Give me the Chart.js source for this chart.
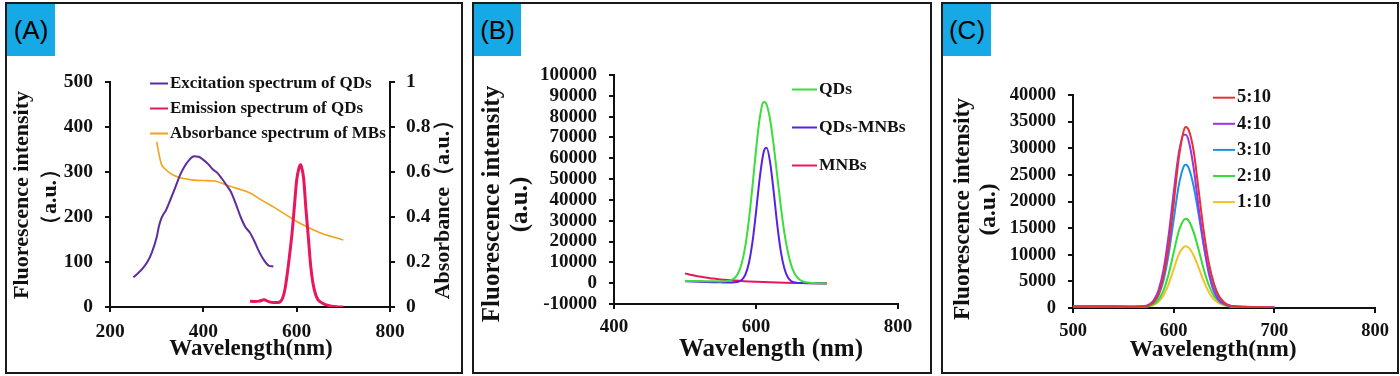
<!DOCTYPE html>
<html>
<head>
<meta charset="utf-8">
<script src="https://cdn.jsdelivr.net/npm/chart.js@4.4.1/dist/chart.umd.min.js"></script>
<style>
  html, body { margin: 0; padding: 0; background: #fff; }
  #page { position: relative; width: 1400px; height: 376px; overflow: hidden; }
  .panel { position: absolute; top: 2px; height: 368px; border: 2px solid #1a1a1a; }
  .tag {
    position: absolute; top: 4px; height: 52px; background: #17a8e6; color: #000;
    font: 26px "Liberation Sans", Arial, sans-serif;
    display: flex; align-items: center; justify-content: center;
  }
  canvas { position: absolute; top: 0; }
</style>
</head>
<body>
<div id="page">
  <div class="panel" style="left:5px;width:454px"></div>
  <div class="panel" style="left:472px;width:456px"></div>
  <div class="panel" style="left:941px;width:454px"></div>
  <div class="tag" style="left:7px;width:48px">(A)</div>
  <div class="tag" style="left:474px;width:47px">(B)</div>
  <div class="tag" style="left:943px;width:48px">(C)</div>
  <canvas id="chartA" width="462" height="376" style="left:0px"></canvas>
  <canvas id="chartB" width="470" height="376" style="left:462px"></canvas>
  <canvas id="chartC" width="456" height="376" style="left:942px"></canvas>
</div>

<script>
/* ---------- data: panel A ---------- */
const excWave = [250, 260, 270, 280, 290, 300, 305, 310, 315, 320, 330, 340, 350, 360, 370, 380, 390,
                 400, 410, 420, 430, 440, 450, 460, 470, 480, 490, 500, 510, 520, 530, 540, 550];
const excitation = [66, 75, 86, 100, 122, 155, 180, 197, 207, 215, 240, 266, 293, 313, 327, 335, 334,
                    327, 318, 306, 298, 285, 270, 254, 228, 200, 178, 165, 145, 122, 104, 92, 90];

const emWave = [500, 510, 520, 530, 540, 550, 560, 565, 570, 575, 580, 585, 590, 595, 600, 605, 608,
                610, 615, 620, 625, 630, 635, 640, 645, 650, 660, 670, 680, 690, 700];
const emission = [13, 12, 13, 16, 12, 10, 10, 12, 20, 40, 75, 117, 163, 222, 282, 309, 316,
                  313, 285, 216, 155, 92, 52, 30, 17, 12, 6, 3, 1, 0, 0];

const absWave = [300, 305, 310, 320, 330, 340, 350, 375, 400, 425, 450, 475, 500, 525, 550, 575, 600,
                 625, 650, 675, 700];
const absorbance = [0.735, 0.68, 0.635, 0.61, 0.593, 0.582, 0.574, 0.565, 0.562, 0.56, 0.542, 0.525,
                    0.507, 0.475, 0.445, 0.413, 0.38, 0.354, 0.33, 0.313, 0.298];

/* ---------- data: panel B ---------- */
const bWave = [500, 510, 520, 530, 540, 550, 560, 565, 570, 575, 580, 585, 590, 595, 600, 605, 610,
               612, 615, 620, 625, 630, 635, 640, 645, 650, 655, 660, 665, 670, 680, 690, 700];
const qds = [1100, 1050, 1000, 950, 900, 850, 1000, 1440, 2520, 4900, 9680, 17900, 30400, 46500,
             63900, 78700, 86800, 87000, 85700, 78400, 66000, 51300, 36700, 24200, 14700, 8200,
             4300, 2100, 950, 400, 100, 0, -100];
const qdsMnbs = [900, 800, 700, 600, 500, 400, 300, 320, 400, 700, 1600, 4100, 9700, 19700, 34000,
                 49800, 61700, 64300, 65000, 57800, 43600, 27900, 15200, 7000, 2700, 900, 300, 100,
                 50, 0, 0, -50, -100];
const mnbWave = [500, 510, 520, 530, 540, 550, 560, 570, 580, 590, 600, 620, 640, 660, 680, 700];
const mnbs = [4700, 3900, 3200, 2700, 2200, 1800, 1500, 1250, 1050, 850, 700, 450, 250, 100, 0, -100];

/* ---------- data: panel C ---------- */
const cWave = [500, 520, 540, 560, 565, 570, 575, 580, 585, 590, 595, 600, 605, 610, 612, 615, 620,
               625, 630, 635, 640, 645, 650, 655, 660, 670, 680, 690, 700];
const ratio5 = [300, 280, 260, 250, 260, 300, 500, 1100, 2700, 6100, 11500, 19500, 28000, 33300, 34000,
                33400, 29300, 21800, 14300, 8400, 4600, 2250, 1100, 550, 320, 220, 180, 150, 120];
const ratio4 = [300, 280, 260, 250, 270, 345, 610, 1410, 3380, 7290, 13640, 21660, 28990, 32550, 32550,
                31300, 26100, 18600, 11800, 6400, 3100, 1400, 790, 430, 300, 200, 170, 140, 120];
const ratio3 = [300, 280, 260, 250, 260, 290, 470, 1010, 2390, 5240, 10110, 16570, 22940, 26600, 26900,
                26280, 22730, 17350, 11570, 6860, 3630, 1870, 900, 470, 310, 220, 180, 150, 120];
const ratio2 = [300, 280, 260, 250, 250, 270, 380, 720, 1580, 3360, 6390, 10410, 14380, 16520, 16750,
                16370, 14150, 10800, 7200, 4270, 2260, 1240, 640, 370, 270, 210, 170, 150, 120];
const ratio1 = [300, 280, 260, 250, 250, 260, 340, 570, 1170, 2400, 4500, 7280, 10030, 11450, 11600,
                11330, 9800, 7480, 4990, 2960, 1570, 920, 500, 320, 250, 200, 170, 150, 120];

/* ---------- helpers ---------- */
const SERIF = "'Liberation Serif', 'Times New Roman', serif";
const INK = '#111';

const pts = (xs, ys) => xs.map((x, i) => ({ x, y: ys[i] }));

function line(label, xs, ys, color, width, axis) {
  return {
    label,
    data: pts(xs, ys),
    borderColor: color,
    borderWidth: width,
    pointRadius: 0,
    cubicInterpolationMode: 'monotone',
    fill: false,
    yAxisID: axis || 'y'
  };
}

function axis(size, pad, fit) {
  return {
    type: 'linear',
    border: { color: INK, width: 2 },
    grid: { drawOnChartArea: false, drawTicks: true, tickLength: 5, color: INK, lineWidth: 2 },
    ticks: {
      color: INK,
      padding: pad,
      autoSkip: false,
      maxRotation: 0,
      font: { family: SERIF, weight: 'bold', size },
      callback: v => String(v)
    },
    afterFit: fit
  };
}

// legend: short line + label, one row per dataset
const lineLegend = {
  id: 'lineLegend',
  afterDraw(chart, args, o) {
    const { ctx } = chart;
    ctx.save();
    ctx.font = `bold ${o.size}px ${SERIF}`;
    ctx.textBaseline = 'middle';
    chart.data.datasets.forEach((ds, i) => {
      const y = o.y + i * o.rowGap;
      ctx.strokeStyle = ds.borderColor;
      ctx.lineWidth = 2;
      ctx.beginPath();
      ctx.moveTo(o.x, y);
      ctx.lineTo(o.x + o.lineLen, y);
      ctx.stroke();
      ctx.fillStyle = INK;
      ctx.fillText(ds.label, o.x + o.lineLen + 2, y);
    });
    ctx.restore();
  }
};

// axis titles placed where the original figure has them
const axisTitles = {
  id: 'axisTitles',
  afterDraw(chart, args, o) {
    const { ctx } = chart;
    o.items.forEach(t => {
      ctx.save();
      ctx.translate(t.x, t.y);
      if (t.rot) ctx.rotate(t.rot * Math.PI / 180);
      ctx.font = `bold ${t.size}px ${SERIF}`;
      ctx.fillStyle = INK;
      ctx.textAlign = 'center';
      ctx.textBaseline = 'middle';
      ctx.fillText(t.text, 0, 0);
      ctx.restore();
    });
  }
};

const base = {
  responsive: false,
  animation: false,
  events: [],
  plugins: { legend: { display: false }, tooltip: { enabled: false } }
};

/* ---------- panel A ---------- */
new Chart(document.getElementById('chartA'), {
  type: 'line',
  data: {
    datasets: [
      line('Excitation spectrum of QDs', excWave, excitation, '#5b2d9e', 2),
      line('Emission spectrum of QDs', emWave, emission, '#e8175d', 3),
      line('Absorbance spectrum of MBs', absWave, absorbance, '#f0a31c', 1.6, 'y1')
    ]
  },
  options: {
    ...base,
    layout: { padding: { left: 0, top: 82, right: 0, bottom: 0 } },
    scales: {
      x: { ...axis(19.5, 8, s => { s.height = 69; }), position: 'bottom', min: 200, max: 800,
           ticks: { ...axis(19.5, 8).ticks, stepSize: 200 } },
      y: { ...axis(19.5, 12, s => { s.width = 110; }), position: 'left', min: 0, max: 500,
           ticks: { ...axis(19.5, 12).ticks, stepSize: 100 } },
      y1: { ...axis(19.5, 11, s => { s.width = 72; }), position: 'right', min: 0, max: 1,
            ticks: { ...axis(19.5, 11).ticks, stepSize: 0.2 } }
    },
    plugins: {
      ...base.plugins,
      lineLegend: { x: 150, y: 83.5, rowGap: 25, lineLen: 18, size: 17 },
      axisTitles: { items: [
        { text: 'Wavelength(nm)', x: 251, y: 349, size: 23 },
        { text: 'Fluorescence intensity', x: 22, y: 195, size: 22, rot: -90 },
        { text: '（a.u.）', x: 50, y: 197, size: 22, rot: -90 },
        { text: 'Absorbance（a.u.）', x: 443, y: 204, size: 22, rot: -90 }
      ] }
    }
  },
  plugins: [lineLegend, axisTitles]
});

/* ---------- panel B ---------- */
new Chart(document.getElementById('chartB'), {
  type: 'line',
  data: {
    datasets: [
      line('QDs', bWave, qds, '#3ddc3d', 2),
      line('QDs-MNBs', bWave, qdsMnbs, '#5522e6', 2),
      line('MNBs', mnbWave, mnbs, '#e8175d', 2)
    ]
  },
  options: {
    ...base,
    layout: { padding: { left: 0, top: 75, right: 34, bottom: 0 } },
    scales: {
      x: { ...axis(19, 7, s => { s.height = 72; }), position: 'bottom', min: 400, max: 800,
           ticks: { ...axis(19, 7).ticks, stepSize: 200 } },
      y: { ...axis(19, 12, s => { s.width = 152; }), position: 'left', min: -10000, max: 100000,
           ticks: { ...axis(19, 12).ticks, stepSize: 10000 } }
    },
    plugins: {
      ...base.plugins,
      lineLegend: { x: 330, y: 89.5, rowGap: 38, lineLen: 25, size: 17.5 },
      axisTitles: { items: [
        { text: 'Wavelength (nm)', x: 309, y: 350, size: 25 },
        { text: 'Fluorescence intensity', x: 31, y: 204, size: 25, rot: -90 },
        { text: '(a.u.)', x: 59, y: 204.5, size: 25, rot: -90 }
      ] }
    }
  },
  plugins: [lineLegend, axisTitles]
});

/* ---------- panel C ---------- */
new Chart(document.getElementById('chartC'), {
  type: 'line',
  data: {
    datasets: [
      line('5:10', cWave, ratio5, '#e83232', 2),
      line('4:10', cWave, ratio4, '#9b32ee', 2),
      line('3:10', cWave, ratio3, '#1e90e6', 2),
      line('2:10', cWave, ratio2, '#33dd33', 2),
      line('1:10', cWave, ratio1, '#f3c22a', 2)
    ]
  },
  options: {
    ...base,
    layout: { padding: { left: 0, top: 95, right: 23, bottom: 0 } },
    scales: {
      x: { ...axis(18.5, 7, s => { s.height = 68; }), position: 'bottom', min: 500, max: 800,
           ticks: { ...axis(18.5, 7).ticks, stepSize: 100 } },
      y: { ...axis(18.5, 12, s => { s.width = 131; }), position: 'left', min: 0, max: 40000,
           ticks: { ...axis(18.5, 12).ticks, stepSize: 5000 } }
    },
    plugins: {
      ...base.plugins,
      lineLegend: { x: 271, y: 97.7, rowGap: 26.1, lineLen: 22, size: 18.5 },
      axisTitles: { items: [
        { text: 'Wavelength(nm)', x: 271, y: 350, size: 23.5 },
        { text: 'Fluorescence intensity', x: 20.5, y: 209, size: 23.5, rot: -90 },
        { text: '(a.u.)', x: 47, y: 209.5, size: 23.5, rot: -90 }
      ] }
    }
  },
  plugins: [lineLegend, axisTitles]
});
</script>
</body>
</html>
